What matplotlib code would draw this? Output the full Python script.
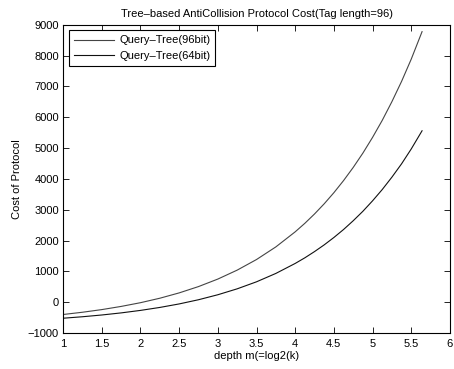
import matplotlib
matplotlib.use("Agg")
import matplotlib.pyplot as plt

depth = [1.0, 1.25, 1.5, 1.75, 2.0, 2.25, 2.5, 2.75, 3.0, 3.25, 3.5, 3.75,
         4.0, 4.125, 4.25, 4.375, 4.5, 4.625, 4.75, 4.875, 5.0, 5.125,
         5.25, 5.375, 5.5, 5.64]
cost_96 = [-400, -327, -241, -138, -17, 128, 301, 506, 750, 1040, 1384, 1794,
           2283, 2560, 2863, 3193, 3553, 3946, 4373, 4838, 5348, 5900,
           6507, 7165, 7887, 8780]
cost_64 = [-521, -473, -416, -348, -267, -171, -57, 79, 241, 433, 661, 933,
           1257, 1440, 1642, 1860, 2099, 2358, 2643, 2950, 3289, 3655,
           4057, 4490, 4972, 5563]
series_labels = ["Query\u2013Tree(96bit)", "Query\u2013Tree(64bit)"]
xticks = [1, 1.5, 2, 2.5, 3, 3.5, 4, 4.5, 5, 5.5, 6]
xtick_labels = ["1", "1.5", "2", "2.5", "3", "3.5", "4", "4.5", "5", "5.5", "6"]
yticks = [-1000, 0, 1000, 2000, 3000, 4000, 5000, 6000, 7000, 8000, 9000]
ytick_labels = ["\u22121000", "0", "1000", "2000", "3000", "4000", "5000", "6000", "7000", "8000", "9000"]

plt.rcParams['font.family'] = ['Liberation Sans', 'DejaVu Sans']
plt.rcParams['font.size'] = 8

fig = plt.figure(figsize=(4.54, 3.69), dpi=100)
ax = fig.add_axes([0.139, 0.0976, 0.852, 0.835])

ax.plot(depth, cost_96, color='#444444', lw=0.8, label=series_labels[0])
ax.plot(depth, cost_64, color='#111111', lw=0.8, label=series_labels[1])

ax.set_xlim(1, 6)
ax.set_ylim(-1000, 9000)
ax.set_xticks(xticks)
ax.set_xticklabels(xtick_labels)
ax.set_yticks(yticks)
ax.set_yticklabels(ytick_labels)
ax.tick_params(direction='in', top=True, right=True, length=4, width=0.6,
               labelsize=8)
ax.tick_params(axis='x', pad=4)
ax.tick_params(axis='y', pad=3)
for s in ax.spines.values():
    s.set_linewidth(0.8)

ax.set_title("Tree\u2013based AntiCollision Protocol Cost(Tag length=96)", fontsize=8, pad=6)
ax.set_xlabel("depth m(=log2(k)", fontsize=8, labelpad=2)
ax.set_ylabel("Cost of Protocol", fontsize=8, labelpad=4)

leg = ax.legend(loc='upper left', fontsize=8, frameon=True, fancybox=False,
                edgecolor='black', framealpha=1, handlelength=3.6,
                handletextpad=0.5, borderaxespad=0.5, borderpad=0.45,
                labelspacing=0.5)
leg.get_frame().set_linewidth(0.8)

fig.savefig("out.png", dpi=100, facecolor='white')
